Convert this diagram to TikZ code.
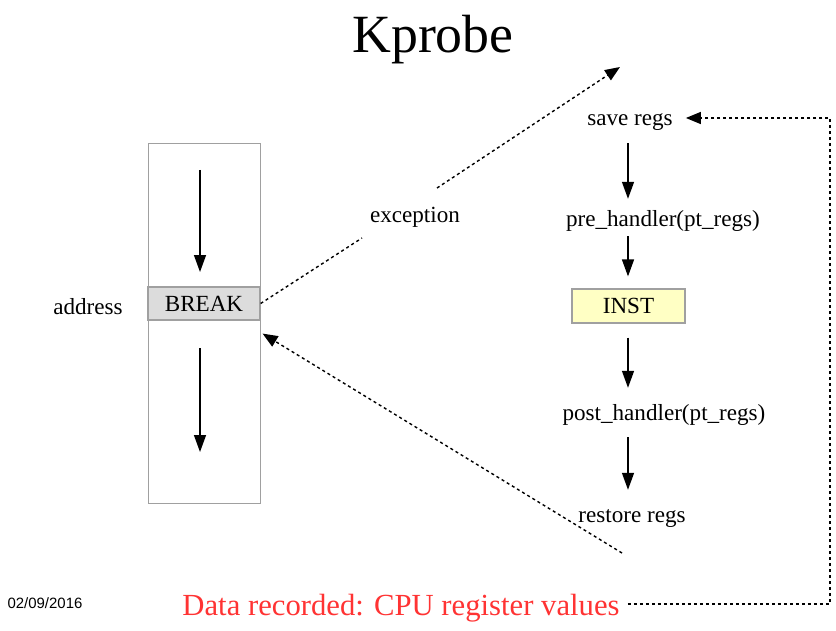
\documentclass[tikz,border=0pt]{standalone}
\usepackage{fontspec}
\setmainfont{Liberation Serif}
\newfontfamily\datefont{Liberation Sans}
\usetikzlibrary{arrows.meta,calc}
\definecolor{boxgray}{HTML}{A0A0A0}
\definecolor{breakfill}{HTML}{DCDCDC}
\definecolor{instfill}{HTML}{FFFFC4}
\definecolor{datared}{HTML}{FF3333}
\begin{document}
\begin{tikzpicture}[x=1bp,y=-1bp,
  txt/.style={font=\fontsize{23.2}{27}\selectfont, inner sep=0pt, text height=18bp, text depth=3bp},
  arr/.style={line width=1.4bp, -{Triangle[length=17bp,width=12bp]}},
  dotline/.style={line width=1.4bp, dash pattern=on 3bp off 3bp},
  dotarr/.style={dotline, -{Triangle[length=15bp,width=12bp]}},
  membox/.style={draw=boxgray, line width=1.2bp}
]
\useasboundingbox (0,0) rectangle (836,631);

% title
\node[font=\fontsize{54}{62}\selectfont, inner sep=0pt] (title) at (433,40) {Kprobe};

% memory column
\node[membox, minimum width=112bp, minimum height=360bp, anchor=north west, inner sep=0pt] (mem) at (148,143) {};
\node[membox, txt, fill=breakfill, minimum width=112bp, minimum height=33bp] (brk) at (204,303.5) {BREAK};
\node[txt] (addr) at (88,307) {address};

\coordinate (a1s) at (200,170);
\coordinate (a1e) at (200,272);
\coordinate (a2s) at (200,348);
\coordinate (a2e) at (200,452);
\draw[arr] (a1s) -- (a1e);
\draw[arr] (a2s) -- (a2e);

% right column
\coordinate (col) at (628,0);
\node[txt] (save) at (630,118) {save regs};
\node[txt] (pre) at (663,219) {pre\_handler(pt\_regs)};
\node[membox, txt, fill=instfill, minimum width=113bp, minimum height=34bp] (inst) at (628.5,306) {INST};
\node[txt] (post) at (664,413) {post\_handler(pt\_regs)};
\node[txt] (rest) at (632,515) {restore regs};

\draw[arr, shorten <=14.5bp, shorten >=9.5bp] (save.south -| col) -- (pre.north -| col);
\draw[arr, shorten <=6.5bp, shorten >=12bp] (pre.south -| col) -- (inst.north -| col);
\draw[arr, shorten <=14bp, shorten >=14.5bp] (inst.south -| col) -- (post.north -| col);
\draw[arr, shorten <=13.5bp, shorten >=14.5bp] (post.south -| col) -- (rest.north -| col);

% exception
\node[txt] (exc) at (415,215) {exception};
\coordinate (exa) at (362,238);
\coordinate (exb) at (437,188);
\coordinate (extip) at (620,67);
\draw[dotline] (brk.east) -- (exa);
\draw[dotarr] (exb) -- (extip);

% return
\coordinate (rs) at (622,553);
\draw[dotarr] (rs) -- ([shift={(2,13)}]brk.south east);

% data recorded
\node[font=\fontsize{30.8}{36}\selectfont, text=datared, inner sep=0pt, text height=26bp, text depth=4bp] (data) at (401,604) {Data recorded: CPU register values};
\coordinate (loopx) at (830,0);
\draw[dotarr, shorten <=8bp, shorten >=13bp] (data.east) -| (loopx |- save.east) -- (save.east);

% date
\node[font=\datefont\fontsize{15}{18}\selectfont, inner sep=0pt] (date) at (45,603) {02/09/2016};
\end{tikzpicture}
\end{document}
